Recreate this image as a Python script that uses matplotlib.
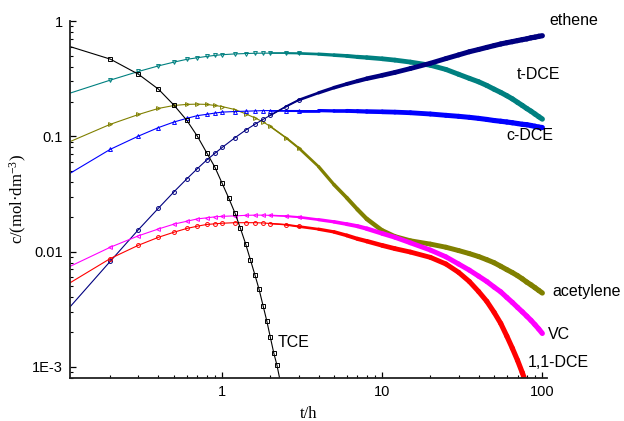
import numpy as np
import matplotlib.pyplot as plt
from matplotlib.collections import LineCollection

plt.rcParams['mathtext.fontset'] = 'custom'
plt.rcParams['mathtext.rm'] = 'Liberation Serif'
plt.rcParams['mathtext.default'] = 'regular'

# time grid (h)
t = [0.1, 0.2, 0.3, 0.4, 0.5, 0.6, 0.7, 0.8, 0.9, 1.0,
     1.2, 1.4, 1.6, 1.8, 2.0, 2.5,
     3, 4, 5, 6, 7, 8,
     10, 12, 15,
     20, 25, 30, 35, 40, 45, 50, 55, 60, 65, 70, 75, 80, 85, 90, 95, 100]

t_dce = [0.225, 0.307, 0.365, 0.408, 0.44, 0.465, 0.48, 0.493, 0.503, 0.51,
         0.518, 0.522, 0.525, 0.526, 0.526, 0.526,
         0.524, 0.516, 0.506, 0.498, 0.488, 0.482,
         0.47, 0.458, 0.44,
         0.413, 0.38, 0.345, 0.318, 0.297, 0.276, 0.256, 0.24, 0.225, 0.211, 0.197, 0.185,
         0.174, 0.165, 0.156, 0.148, 0.141]
c_dce = [0.0434, 0.0771, 0.1004, 0.119, 0.133, 0.143, 0.151, 0.155, 0.159, 0.162,
         0.164, 0.165, 0.166, 0.167, 0.167, 0.167,
         0.167, 0.167, 0.166, 0.166, 0.165, 0.164,
         0.163, 0.162, 0.16,
         0.156, 0.152, 0.149, 0.146, 0.143, 0.14, 0.137, 0.135, 0.133, 0.131, 0.129, 0.127,
         0.126, 0.124, 0.122, 0.120, 0.119]
acetylene = [0.084, 0.127, 0.1545, 0.1745, 0.185, 0.189, 0.190, 0.189, 0.185, 0.181,
             0.1706, 0.1567, 0.1445, 0.1334, 0.1216, 0.0973,
             0.0794, 0.0546, 0.038, 0.0293, 0.0232, 0.0192,
             0.0152, 0.0135, 0.0124,
             0.0116, 0.0109, 0.0102, 0.0096, 0.00905, 0.0085, 0.0080, 0.00745, 0.00697,
             0.00657, 0.00618, 0.0058, 0.00543, 0.00514, 0.00486, 0.0046, 0.00437]
ethene = [0.00277, 0.00824, 0.0155, 0.0238, 0.033, 0.0426, 0.0524, 0.0622, 0.0711, 0.080,
          0.097, 0.113, 0.127, 0.140, 0.152, 0.181,
          0.206, 0.238, 0.264, 0.284, 0.301, 0.316,
          0.338, 0.358, 0.387,
          0.43, 0.472, 0.508, 0.541, 0.566, 0.59, 0.612, 0.632, 0.648, 0.662, 0.676, 0.689,
          0.70, 0.715, 0.724, 0.736, 0.745]
vc = [0.0069, 0.0109, 0.0137, 0.0157, 0.0173, 0.0183, 0.0192, 0.0196, 0.020, 0.0202,
      0.0204, 0.0206, 0.0207, 0.0207, 0.0206, 0.0203,
      0.0199, 0.0189, 0.0181, 0.0173, 0.0166, 0.0158,
      0.01435, 0.0133, 0.0119,
      0.0103, 0.009, 0.0078, 0.0069, 0.00612, 0.0055, 0.00492, 0.00447, 0.004, 0.00362,
      0.00328, 0.003, 0.00275, 0.00253, 0.00232, 0.00213, 0.00195]
dce11 = [0.00487, 0.0087, 0.01135, 0.0133, 0.01472, 0.01585, 0.0166, 0.01717, 0.0174, 0.0176,
         0.0178, 0.0178, 0.0178, 0.0177, 0.0175, 0.0171,
         0.0165, 0.01563, 0.0148, 0.0138, 0.0129, 0.0123,
         0.0113, 0.0106, 0.0099,
         0.0089, 0.0078, 0.0066, 0.0055, 0.0045, 0.0037, 0.00297, 0.00238, 0.00185,
         0.00145, 0.00114, 0.00089, 0.00069]

tce_t = [0.1, 0.2, 0.3, 0.4, 0.5, 0.6, 0.7, 0.8, 0.9, 1.0, 1.1, 1.2, 1.3, 1.4, 1.5, 1.6,
         1.7, 1.8, 1.9, 2.0, 2.1, 2.2, 2.3]
tce = [0.63, 0.467, 0.345, 0.256, 0.186, 0.138, 0.100, 0.072, 0.054, 0.039, 0.029, 0.0217,
       0.0159, 0.0117, 0.0085, 0.0063, 0.0047, 0.0034, 0.0025, 0.0018, 0.00132, 0.00103,
       0.00076]

series = [
    ('t-DCE', t_dce, '#008080', 'v'),
    ('acetylene', acetylene, '#808000', '>'),
    ('c-DCE', c_dce, '#0000ff', '^'),
    ('ethene', ethene, '#000080', 'o'),
    ('VC', vc, '#ff00ff', '<'),
    ('1,1-DCE', dce11, '#ff0000', 'o'),
]

labels = [
    ('ethene', 110.6, 1.02),
    ('t-DCE', 68.8, 0.346),
    ('c-DCE', 59.6, 0.102),
    ('acetylene', 115.5, 0.00449),
    ('VC', 109, 0.0019),
    ('1,1-DCE', 81.7, 0.00108),
    ('TCE', 2.21, 0.00162),
]

fig = plt.figure(figsize=(6.24, 4.21), dpi=100)
ax = fig.add_axes([70 / 624, 1 - 378 / 421, 477 / 624, 357 / 421])
ax.set_xscale('log')
ax.set_yscale('log')

for name, vals, col, mk in series:
    tt = np.array(t[:len(vals)])
    cc = np.array(vals)
    ax.plot(tt, cc, color=col, lw=0.8)
    early = tt < 4
    ax.plot(tt[early], cc[early], ls='none', color=col, marker=mk, ms=2.8, mfc='none',
            mew=0.7)
    # the dense markers of the original merge into a thick band at later times
    pts = np.column_stack([tt, cc])
    segs = np.stack([pts[:-1], pts[1:]], axis=1)
    tmid = np.sqrt(tt[:-1] * tt[1:])
    w = np.interp(np.log10(tmid), [0.3, 0.6, 1.0, 2.0], [0.9, 2.2, 3.4, 3.8])
    keep = tmid > 1.9
    lc = LineCollection(segs[keep], colors=col, linewidths=w[keep], capstyle='round',
                        joinstyle='round')
    ax.add_collection(lc)

ax.plot(tce_t, tce, color='black', lw=0.8, marker='s', ms=2.5, mfc='none', mew=0.7)

for s, x, y in labels:
    ax.text(x, y, s, ha='left', va='center', fontsize=11.5, family='Liberation Sans',
            clip_on=False)

ax.set_xlim(0.112, 107)
ax.set_ylim(8e-4, 1.0)

ax.spines['top'].set_visible(False)
ax.spines['right'].set_visible(False)
for sp in ('left', 'bottom'):
    ax.spines[sp].set_linewidth(1.3)
    ax.spines[sp].set_color('#222222')

ax.set_xticks([1, 10, 100])
ax.set_xticklabels(['1', '10', '100'])
ax.set_yticks([1e-3, 1e-2, 0.1, 1])
ax.set_yticklabels(['1E-3', '0.01', '0.1', '1'])
ax.tick_params(which='major', direction='in', length=4.5, width=0.9, pad=5,
               labelsize=10.5)
ax.tick_params(which='minor', direction='in', length=2.5, width=0.8)
for lab in ax.get_xticklabels() + ax.get_yticklabels():
    lab.set_family('Liberation Sans')

ax.set_xlabel('t/h', family='Liberation Serif', fontsize=12, labelpad=5)
ax.set_ylabel('c/(mol·dm$^{-3}$)', family='Liberation Serif', fontsize=12, labelpad=2)

fig.savefig('out.png', dpi=100)
